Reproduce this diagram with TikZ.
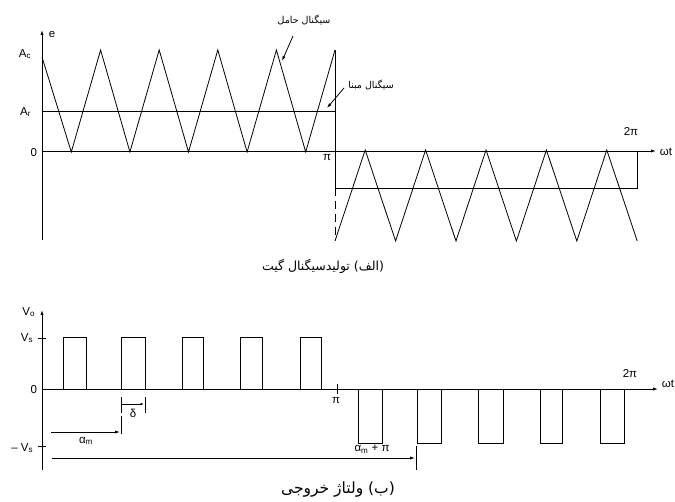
\documentclass[tikz,border=0pt]{standalone}
\usepackage{fontspec}
\setmainfont{Liberation Sans}
\newfontfamily\arabicfont[Script=Arabic]{DejaVu Sans}
\TeXXeTstate=1
\usetikzlibrary{arrows.meta}
\begin{document}
\begin{tikzpicture}[x=1pt,y=-1pt,line width=0.8pt,
  >={Latex[length=5pt,width=3.2pt]},
  lbl/.style={font=\fontsize{11.5}{13}\selectfont,inner sep=0.5pt},
  fa/.style={font=\arabicfont\fontsize{12.5}{15}\selectfont,inner sep=0pt},
  fasmall/.style={font=\arabicfont\fontsize{9.5}{11}\selectfont,inner sep=0pt},
  tick/.style={line width=0.8pt}]
\useasboundingbox (0,0) rectangle (675,502);

% ================= (a) gate signal generation =================
\coordinate (eTop) at (42,30);
\coordinate (eBot) at (42,240);
\draw[->] (eBot) -- (eTop);
\node[lbl,anchor=west] (e) at (48,34) {e};
\coordinate (z0) at (42,151);
\coordinate (zEnd) at (656,151);
\draw[->] (z0) -- (zEnd);
\node[lbl,anchor=west] (wt1) at (659,152) {ωt};
\node[lbl,anchor=east] (Ac) at (32,54) {A\textsubscript{c}};
\node[lbl,anchor=east] (Ar) at (32,112) {A\textsubscript{r}};
\node[lbl,anchor=east] (z0l) at (38,153) {0};
\node[lbl] (pi1) at (327,158) {π};
\node[lbl] (tpi1) at (631,132) {2π};

% carrier, first half
\draw (42,57) \foreach \k in {0,...,4} { -- ({71.3+58.6*\k},152) -- ({100.6+58.6*\k},50) };
% reference line
\draw (42,111) -- (335,111);
% vertical at pi
\draw (335,50) -- (335,188);
\draw[dashed,dash pattern=on 8pt off 5pt] (335,188) -- (335,240);
% carrier, second half (inverted)
\draw (335,241) \foreach \k in {0,...,4} { -- ({365.2+60.4*\k},150) -- ({395.6+60.4*\k},241) };
% negative reference line
\draw (335,188) -- (637,188) -- (637,151);

% label arrows
\node[fasmall] (carrier) at (304,20) {\beginR سیگنال حامل\endR};
\coordinate (carrierTip) at (282,61);
\draw[->] (293,36) -- (carrierTip);
\node[fasmall] (refsig) at (371,85) {\beginR سیگنال مبنا\endR};
\coordinate (refTip) at (327,108);
\draw[->] (344,88) -- (refTip);

\node[fa] (capA) at (323,266) {\beginR (الف) تولیدسیگنال گیت\endR};

% ================= (b) output voltage =================
\coordinate (vTop) at (42,310);
\coordinate (vBot) at (42,470);
\draw[->] (vBot) -- (vTop);
\node[lbl,anchor=east] (Vo) at (36,312) {V\textsubscript{o}};
\node[lbl,anchor=east] (Vs) at (34,338) {V\textsubscript{s}};
\node[lbl,anchor=east] (z0b) at (38,390) {0};
\node[lbl,anchor=east] (mVs) at (34,448) {– V\textsubscript{s}};
\draw[tick] (38,338) -- (46,338);
\draw[tick] (38,446) -- (46,446);
\coordinate (zb0) at (42,389);
\coordinate (zbEnd) at (658,389);
\draw[->] (zb0) -- (zbEnd);
\node[lbl,anchor=west] (wt2) at (661,384) {ωt};
\draw[tick] (337,384) -- (337,394);
\node[lbl] (pi2) at (336,401) {π};
\node[lbl] (tpi2) at (630,374) {2π};

% positive pulses
\foreach \a/\b in {63/86,121/145,182/203,240/262,300/321}
  \draw (\a,389) -- (\a,337) -- (\b,337) -- (\b,389);
% negative pulses
\foreach \a/\b in {358/382,417/441,478/503,540/562,600/624}
  \draw (\a,389) -- (\a,443) -- (\b,443) -- (\b,389);

% delta
\draw[tick] (121,397) -- (121,413);
\draw[tick] (145,397) -- (145,413);
\coordinate (dL) at (122,404);
\coordinate (dR) at (144,404);
\draw[->,>={Latex[length=3.5pt,width=2.5pt]}] (dL) -- (dR);
\node[lbl] (delta) at (133,413) {δ};

% alpha_m
\draw[tick] (121,416) -- (121,434);
\coordinate (amL) at (51,432);
\coordinate (amR) at (120,432);
\draw[->] (amL) -- (amR);
\node[lbl] (am) at (86,441) {α\textsubscript{m}};

% alpha_m + pi
\draw[tick] (416,446) -- (416,470);
\coordinate (ampL) at (52,458);
\coordinate (ampR) at (415,458);
\draw[->] (ampL) -- (ampR);
\node[lbl] (amp) at (372,449) {α\textsubscript{m} + π};

\node[fa,font=\arabicfont\fontsize{15.5}{18}\selectfont] (capB) at (338,490) {\beginR (ب) ولتاژ خروجی\endR};
\end{tikzpicture}
\end{document}
